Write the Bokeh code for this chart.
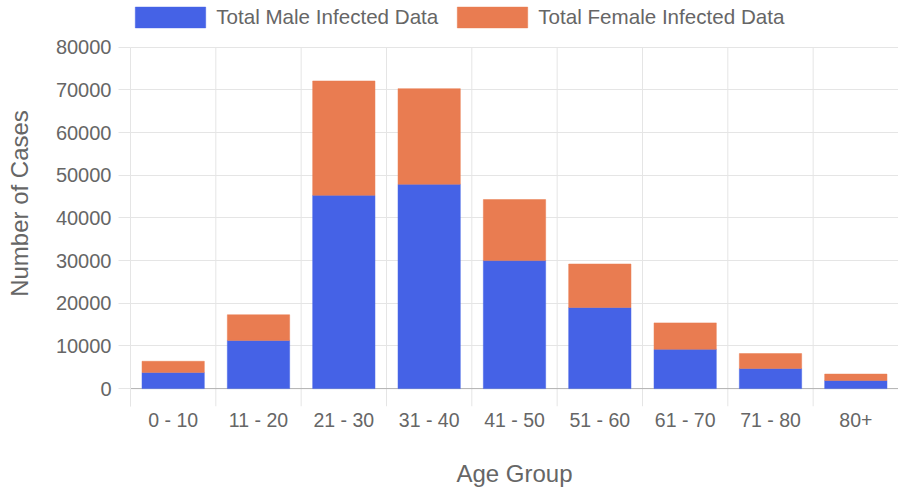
from bokeh.plotting import figure
from bokeh.models import (ColumnDataSource, FactorRange, Range1d, FixedTicker,
                          Span, Legend, LegendItem)
from bokeh.embed import file_html
from bokeh.resources import INLINE

# ---- data ----
age_groups = ["0 - 10", "11 - 20", "21 - 30", "31 - 40", "41 - 50",
              "51 - 60", "61 - 70", "71 - 80", "80+"]
male_cases = [3800, 11300, 45300, 47900, 30000, 19000, 9200, 4700, 1900]
female_cases = [2600, 6000, 26800, 22400, 14300, 10200, 6200, 3500, 1500]
y_ticks = [0, 10000, 20000, 30000, 40000, 50000, 60000, 70000, 80000]
series_labels = ["Total Male Infected Data", "Total Female Infected Data"]
series_colors = ["#4562E6", "#E97C51"]

FONT = "Liberation Sans"
TXT = "#666666"
GRID = "#e5e5e5"

# ---- layout constants (pixels) ----
W, H = 898, 489
FRAME_LEFT = 130
TOP_TICK_PX = 47      # where the top tick sits
ZERO_PX = 390         # where 0 sits
FRAME_BOTTOM = 408
unit = y_ticks[-1] / (ZERO_PX - TOP_TICK_PX)
y_start = -(FRAME_BOTTOM - ZERO_PX) * unit
y_end = y_ticks[-1] + TOP_TICK_PX * unit

source = ColumnDataSource(dict(age=age_groups, male=male_cases, female=female_cases))

p = figure(width=W, height=H,
           x_range=FactorRange(factors=age_groups),
           y_range=Range1d(y_start, y_end),
           output_backend="svg", toolbar_location=None,
           min_border_left=FRAME_LEFT, min_border_right=0,
           min_border_top=0, min_border_bottom=H - FRAME_BOTTOM)
p.outline_line_color = None
p.background_fill_color = "white"
p.xgrid.visible = False

# vertical grid lines at category boundaries (offset grid)
bounds = list(range(len(age_groups) + 1))
p.segment(x0=bounds, y0=[y_start] * len(bounds), x1=bounds,
          y1=[y_ticks[-1]] * len(bounds), line_color=GRID, line_width=1,
          level="underlay")

renderers = p.vbar_stack(["male", "female"], x="age", width=0.73, source=source,
                         fill_color=series_colors, line_color=series_colors,
                         line_width=0.5)

zero_line = Span(location=0, dimension="width", line_color="#b3b3b3",
                 line_width=1, level="underlay")
p.add_layout(zero_line)

# horizontal grid
p.ygrid.ticker = FixedTicker(ticks=y_ticks)
p.ygrid.grid_line_color = GRID

# y axis
p.yaxis.ticker = FixedTicker(ticks=y_ticks)
p.yaxis.bounds = (y_start, y_ticks[-1])
p.yaxis.axis_label = "Number of Cases"
p.yaxis.axis_label_text_font = FONT
p.yaxis.axis_label_text_font_size = "24px"
p.yaxis.axis_label_text_font_style = "normal"
p.yaxis.axis_label_text_color = TXT
p.yaxis.axis_label_standoff = 20
p.yaxis.major_label_text_font = FONT
p.yaxis.major_label_text_font_size = "20px"
p.yaxis.major_label_text_color = TXT
p.yaxis.major_label_standoff = 7
p.yaxis.major_tick_out = 12
p.yaxis.major_tick_in = 0
p.yaxis.minor_tick_line_color = None
p.yaxis.axis_line_color = GRID
p.yaxis.major_tick_line_color = GRID

# x axis
p.xaxis.axis_label = "Age Group"
p.xaxis.axis_label_text_font = FONT
p.xaxis.axis_label_text_font_size = "24px"
p.xaxis.axis_label_text_font_style = "normal"
p.xaxis.axis_label_text_color = TXT
p.xaxis.axis_label_standoff = 26
p.xaxis.major_label_text_font = FONT
p.xaxis.major_label_text_font_size = "19.5px"
p.xaxis.major_label_text_color = TXT
p.xaxis.major_label_standoff = 2
p.xaxis.axis_line_color = None
p.xaxis.major_tick_line_color = None
p.xaxis.major_tick_out = 0
p.xaxis.major_tick_in = 0

# legend (bar legend glyphs are drawn inset by 10% on each side)
legend = Legend(items=[LegendItem(label=lab, renderers=[r])
                       for lab, r in zip(series_labels, renderers)],
                orientation="horizontal", location=(-3.8, 376),
                glyph_width=88, glyph_height=26, label_standoff=2, spacing=10,
                padding=0, margin=0,
                label_text_font=FONT, label_text_font_size="20.6px",
                label_text_color=TXT,
                border_line_color=None, background_fill_alpha=0)
p.add_layout(legend)

open("out.html", "w").write(file_html(p, INLINE))
